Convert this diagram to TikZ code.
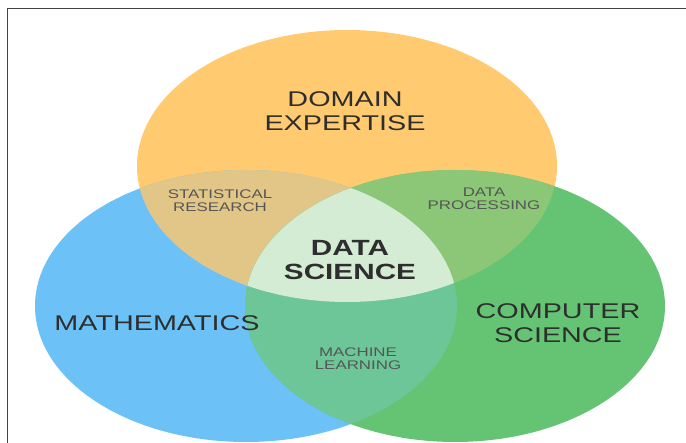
\documentclass[tikz,border=0pt]{standalone}
\usepackage{graphicx}
\usepackage{fontspec}
\setmainfont{Liberation Sans}
\definecolor{cyel}{HTML}{FFCA70}
\definecolor{cblu}{HTML}{6CC2F6}
\definecolor{cgrn}{HTML}{65C474}
\definecolor{cby}{HTML}{E2C688}
\definecolor{cyg}{HTML}{8CC778}
\definecolor{cbg}{HTML}{6CC698}
\definecolor{cmid}{HTML}{D4ECD4}
\definecolor{tdark}{HTML}{2E2E2E}
\definecolor{tgray}{HTML}{555555}
\definecolor{frame}{HTML}{444444}
\newcommand{\sx}[1]{\scalebox{1.35}[1]{#1}}
\newcommand{\pathY}{(347,166) ellipse [x radius=210, y radius=136]}
\newcommand{\pathB}{(246,306) ellipse [x radius=211, y radius=136]}
\newcommand{\pathG}{(455,306) ellipse [x radius=210, y radius=136]}
\tikzset{
  biglabel/.style={font=\fontsize{21.3}{24}\selectfont, text=tdark, align=center, inner sep=0pt},
  boldlabel/.style={font=\fontsize{22}{24.5}\selectfont\bfseries, text=tdark, align=center, inner sep=0pt},
  smalllabel/.style={font=\fontsize{12.5}{13}\selectfont, text=tgray, align=center, inner sep=0pt},
}
\begin{document}
\begin{tikzpicture}[x=1pt,y=-1pt]
\useasboundingbox (0,0) rectangle (686,443);
\begin{scope}
\clip (0,0) rectangle (686,443);
% frame
\draw[frame, line width=1.2pt] (7.5,460) -- (7.5,8.5) -- (700,8.5);
% circles
\fill[cyel] \pathY;
\fill[cblu] \pathB;
\fill[cgrn] \pathG;
\begin{scope}
  \clip \pathY;
  \fill[cby] \pathB;
  \fill[cyg] \pathG;
\end{scope}
\begin{scope}
  \clip \pathB;
  \fill[cbg] \pathG;
\end{scope}
\begin{scope}
  \clip \pathY;
  \clip \pathB;
  \fill[cmid] \pathG;
\end{scope}
\end{scope}
% labels
\node[biglabel] (domain) at (345,111.5) {\sx{DOMAIN}\\\sx{EXPERTISE}};
\node[biglabel] (math) at (157,323) {\sx{MATHEMATICS}};
\node[biglabel] (cs) at (558,323) {\sx{COMPUTER}\\\sx{SCIENCE}};
\node[boldlabel] (ds) at (350,260) {\sx{DATA}\\\sx{SCIENCE}};
\node[smalllabel] (stat) at (220,201) {\sx{STATISTICAL}\\\sx{RESEARCH}};
\node[smalllabel] (proc) at (484,199) {\sx{DATA}\\\sx{PROCESSING}};
\node[smalllabel] (ml) at (358,359) {\sx{MACHINE}\\\sx{LEARNING}};
\end{tikzpicture}
\end{document}
